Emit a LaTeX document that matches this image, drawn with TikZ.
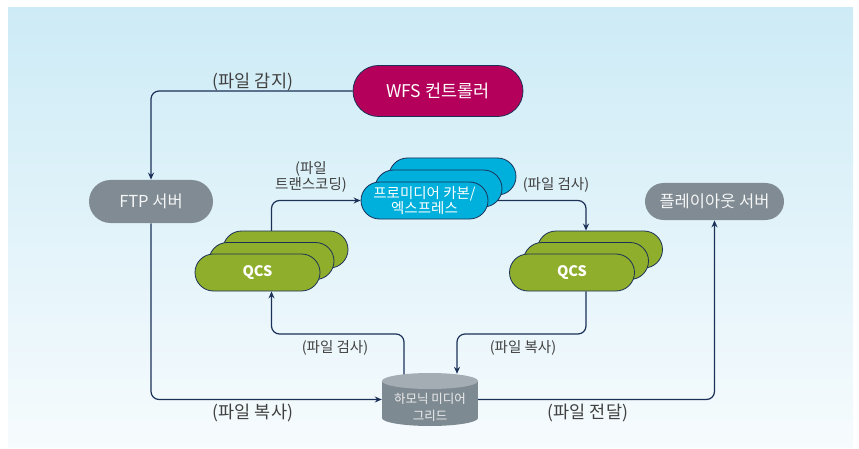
\documentclass[tikz,border=0pt]{standalone}
\usepackage{fontspec}
\setmainfont{Noto Sans CJK KR}
\usetikzlibrary{shapes.misc,arrows.meta,backgrounds}

\definecolor{wfsred}{HTML}{B4005A}
\definecolor{pmblue}{HTML}{00B0DC}
\definecolor{qcsgreen}{HTML}{8FAE2B}
\definecolor{srvgray}{HTML}{808B93}
\definecolor{gridbody}{HTML}{7E8A91}
\definecolor{gridtop}{HTML}{A4ADB3}
\definecolor{linenavy}{HTML}{1B3158}
\definecolor{skytop}{HTML}{CDEBF6}
\definecolor{skybot}{HTML}{F6FBFD}
\definecolor{txtgray}{HTML}{404040}

\begin{document}
\begin{tikzpicture}[x=1pt, y=-1pt,
    pill/.style={rounded rectangle, draw=linenavy, line width=0.8pt, inner sep=0pt, text=white},
    server/.style={pill, draw=none, fill=srvgray, text=white!92!srvgray, font=\fontsize{16.5}{18}\selectfont},
    qcs/.style={pill, fill=qcsgreen, minimum width=125pt, minimum height=37pt, font=\fontsize{14.5}{16}\selectfont\bfseries},
    carbon/.style={pill, fill=pmblue, minimum width=127pt, minimum height=37pt, align=center, font=\fontsize{14.5}{12.5}\selectfont},
    flow/.style={draw=linenavy, line width=1.2pt, rounded corners=8pt},
    tip/.style={-{Stealth[length=7pt,width=6pt]}},
    lbl/.style={text=txtgray, inner sep=0pt, font=\fontsize{17.5}{19}\selectfont},
    small/.style={text=txtgray, inner sep=0pt, align=center, font=\fontsize{14.5}{15.5}\selectfont}]
    \useasboundingbox (0,0) rectangle (859,449);
    \begin{scope}[on background layer]
        \shade [top color=skytop, bottom color=skybot] (8,8) rectangle (853,447);
    \end{scope}

    % controller and servers
    \node [pill, fill=wfsred, minimum width=170pt, minimum height=51pt, font=\fontsize{17.5}{19}\selectfont] (wfs) at (438,91) {WFS 컨트롤러};
    \node [server, minimum width=124pt, minimum height=43pt] (ftp) at (151,201.5) {FTP 서버};
    \node [server, minimum width=139pt, minimum height=37pt] (play) at (714.5,201.5) {플레이아웃 서버};

    % QCS stacks
    \node [qcs] (qcsa3) at (285.5,249.5) {};
    \node [qcs] (qcsa2) at (271.5,261) {};
    \node [qcs] (qcsa) at (257.5,272.5) {QCS};
    \node [qcs] (qcsb3) at (600,249.5) {};
    \node [qcs] (qcsb2) at (586,261) {};
    \node [qcs] (qcsb) at (572,272.5) {QCS};

    % transcoder stack
    \node [carbon] (blue3) at (452.5,176.5) {};
    \node [carbon] (blue2) at (438.5,188.5) {};
    \node [carbon] (blue) at (424.5,200.5) {프로미디어 카본/\\엑스프레스};

    % storage drum
    \node [minimum width=96pt, minimum height=53pt, inner sep=0pt] (grid) at (430,399.5) {};
    \fill [gridbody] (382,381) rectangle (478,418);
    \fill [gridbody] (430,418) ellipse [x radius=48pt, y radius=8pt];
    \fill [gridtop] (430,381) ellipse [x radius=48pt, y radius=8pt];
    \node [align=center, text=white!85!gridbody, font=\fontsize{12.5}{17}\selectfont] (gridlbl) at (430,407.5) {하모닉 미디어\\그리드};

    \coordinate (rowq) at (0,334);

    \begin{scope}[on background layer]
        \draw [flow, tip] (wfs.west) -| (ftp.north);
        \draw [flow, tip] (ftp.south) |- (grid.west);
        \draw [flow, tip] (grid.east) -| (play.south);
        \draw [flow, tip] (qcsa2.north) |- (blue.west);
        \draw [flow, tip] (blue.east) -| (qcsb2.north |- qcsb3.north);
        \draw [flow, tip] (qcsb2.north |- qcsb.south) -- (qcsb2.north |- rowq) -| ([xshift=27pt,yshift=-1pt]grid.north);
        \draw [flow, tip] ([xshift=-26pt,yshift=-2pt]grid.north) |- (qcsa2.north |- rowq) -- (qcsa2.north |- qcsa.south);
    \end{scope}

    % labels
    \node [lbl] (lsense) at (253,82) {(파일 감지)};
    \node [lbl] (lcopy) at (253,413) {(파일 복사)};
    \node [lbl] (lsend) at (588,413) {(파일 전달)};
    \node [small] (ltrans) at (311,177) {(파일\\트랜스코딩)};
    \node [small] (lcheck) at (556,185) {(파일 검사)};
    \node [small] (lcheckq) at (335,348) {(파일 검사)};
    \node [small] (lcopyq) at (523,348) {(파일 복사)};
\end{tikzpicture}
\end{document}
